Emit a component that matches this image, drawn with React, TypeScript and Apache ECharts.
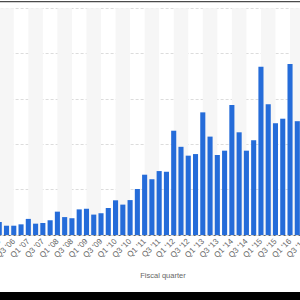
import React, { useEffect, useRef } from "react";
import * as echarts from "echarts";

// Fiscal quarters, Q1 '06 through Q3 '16
const quarters: string[] = [];
for (let y = 6; y <= 16; y++) {
  for (let q = 1; q <= 4; q++) {
    if (y === 16 && q > 3) break;
    quarters.push(`Q${q} '${String(y).padStart(2, "0")}`);
  }
}

// Revenue per quarter (billion U.S. dollars)
const revenue = [
  5.7, 4.1, 4.1, 4.7,
  7.1, 5.0, 5.3, 6.5,
  10.3, 7.9, 7.4, 11.3,
  11.6, 9.0, 9.6, 11.9,
  15.3, 13.4, 15.4, 20.3,
  26.6, 24.6, 28.2, 27.9,
  46.0, 38.9, 35.0, 35.7,
  54.1, 43.4, 35.3, 37.2,
  57.3, 45.3, 37.2, 41.8,
  74.2, 57.7, 49.3, 51.3,
  75.4, 50.2, 42.4,
];

// Shaded column bands run from each Q1 to the following Q3
const bandYears = ["06", "07", "08", "09", "10", "11", "12", "13", "14", "15", "16"];

const axisTitle = "Fiscal quarter";

const OFFSET_X = 40;

export default function App() {
  const ref = useRef<HTMLDivElement>(null);

  useEffect(() => {
    if (!ref.current) return;
    const chart = echarts.init(ref.current, null, { renderer: "svg" });
    const font = "'Liberation Sans', Arial, sans-serif";
    chart.setOption({
      animation: false,
      backgroundColor: "#ffffff",
      grid: { left: 35.6, right: 31.8, top: 8.3, bottom: 65 },
      xAxis: {
        type: "category",
        data: quarters,
        boundaryGap: true,
        axisTick: { show: false },
        axisLine: { lineStyle: { color: "#666666", width: 1 } },
        axisLabel: {
          interval: 1,
          rotate: 45,
          fontSize: 8,
          color: "#666666",
          fontFamily: font,
          margin: 5,
        },
      },
      yAxis: {
        type: "value",
        min: 0,
        max: 100,
        interval: 20,
        z: 1,
        axisLabel: { show: false },
        axisLine: { show: false },
        axisTick: { show: false },
        splitLine: { lineStyle: { color: "#dcdcdc", type: [3, 2], width: 1 } },
      },
      series: [
        {
          type: "line",
          data: revenue,
          z: 0,
          silent: true,
          showSymbol: false,
          lineStyle: { width: 0, opacity: 0 },
          markArea: {
            silent: true,
            itemStyle: { color: "#f6f6f6" },
            data: bandYears.map((y) => [
              { xAxis: `Q1 '${y}`, yAxis: 0 },
              { xAxis: `Q3 '${y}`, yAxis: 100 },
            ]),
          },
        },
        {
          type: "bar",
          data: revenue,
          z: 2,
          barCategoryGap: "30%",
          itemStyle: { color: "#256cd9" },
        },
      ],
      graphic: [
        {
          type: "rect",
          shape: { x: OFFSET_X, y: 1, width: 300, height: 1.2 },
          style: { fill: "#4a4a4a" },
        },
        {
          type: "text",
          x: OFFSET_X + 163,
          y: 275,
          style: {
            text: axisTitle,
            fill: "#666666",
            fontSize: 7.5,
            fontFamily: font,
            align: "center",
            verticalAlign: "middle",
          },
        },
        {
          type: "rect",
          shape: { x: OFFSET_X, y: 292, width: 300, height: 8 },
          style: { fill: "#000000" },
        },
      ],
    });
    return () => chart.dispose();
  }, []);

  return (
    <div
      style={{
        position: "fixed",
        left: 0,
        top: 0,
        width: 300,
        height: 300,
        overflow: "hidden",
        background: "#ffffff",
      }}
    >
      <div
        ref={ref}
        style={{ position: "absolute", left: -OFFSET_X, top: 0, width: 380, height: 300 }}
      />
    </div>
  );
}
